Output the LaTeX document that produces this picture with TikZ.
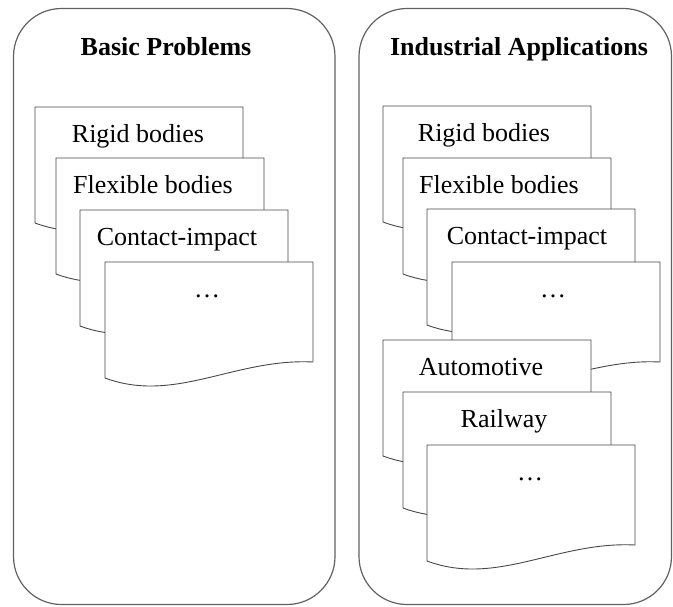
\documentclass[tikz,border=0pt]{standalone}
\usepackage{fontspec}
\setmainfont{Liberation Serif}

% one sheet of the stack: white page with a wavy lower edge and a caption
\newcommand\docsheet[5]{%
  \begin{scope}[shift={(#2,#3)}]
    \draw[sheet] (0,0) -- (208,0) -- (208,100)
      .. controls (130,96) and (70,142) .. (0,116) -- cycle;
    \node[sheettext] (#1) at (104+#5,35) {#4};
  \end{scope}}

\tikzset{
  panel/.style={draw=black!62, line width=1.2pt, rounded corners=48pt},
  sheet/.style={draw=black!72, line width=0.9pt, fill=white},
  sheettext/.style={anchor=base, inner sep=0pt, font=\fontsize{26}{30}\selectfont},
  paneltitle/.style={anchor=base, inner sep=0pt, font=\fontsize{26}{30}\selectfont\bfseries}
}

\begin{document}
\begin{tikzpicture}[x=1pt, y=-1pt]
  \useasboundingbox (0,0) rectangle (673,606);

  % the two rounded panels
  \draw[panel] (13.5,8.5) rectangle (335,604.5);
  \draw[panel] (359,8.5) rectangle (671.5,604.5);
  \node[paneltitle] (basic) at (166,55) {Basic Problems};
  \node[paneltitle] (industrial) at (519,55) {Industrial Applications};

  % stack of basic problems
  \docsheet{brigid}{35}{107}{Rigid bodies}{-1}
  \docsheet{bflex}{56}{158}{Flexible bodies}{-7}
  \docsheet{bcontact}{80}{210}{Contact-impact}{-7}
  \docsheet{bmore}{105}{262}{…}{-2}

  % stacks of industrial applications
  \docsheet{irigid}{383}{106}{Rigid bodies}{-3}
  \docsheet{iflex}{403}{158}{Flexible bodies}{-8}
  \docsheet{icontact}{427}{209}{Contact-impact}{-4}
  \docsheet{imore}{452}{262}{…}{-3}
  \docsheet{auto}{383}{340}{Automotive}{-6}
  \docsheet{rail}{403}{392}{Railway}{-3}
  \docsheet{amore}{427}{445}{…}{-1}
\end{tikzpicture}
\end{document}
